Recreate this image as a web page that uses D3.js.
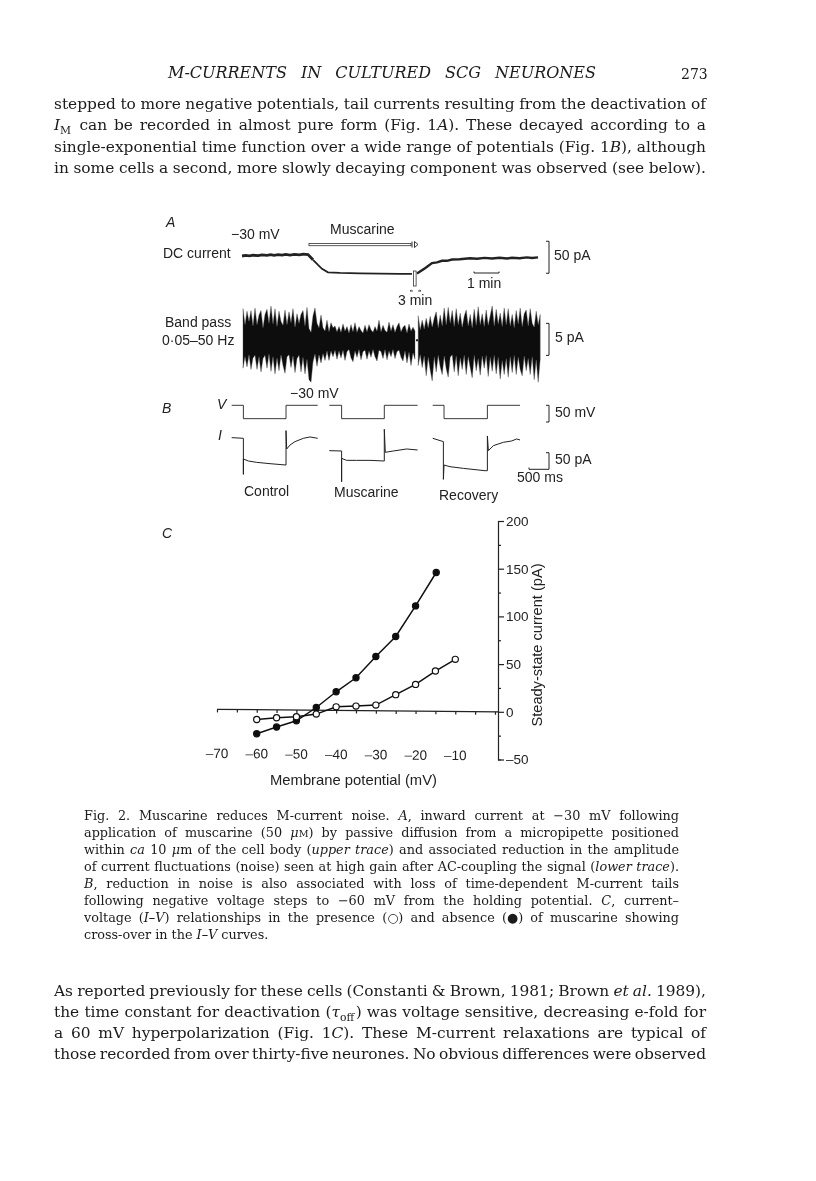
<!DOCTYPE html>
<html>
<head>
<meta charset="utf-8">
<script src="https://cdn.jsdelivr.net/npm/d3@7"></script>
<style>
    html, body { margin: 0; padding: 0; background: #fff; }
    svg { display: block; }
    .page { font-family: "DejaVu Serif", serif; fill: #1a1a1a; }
    .fig { font-family: "Liberation Sans", sans-serif; font-size: 14px; fill: #222; }
    .axis path, .axis line { stroke: #222; stroke-width: 1.2; }
    .axis text { font-family: "Liberation Sans", sans-serif; font-size: 13.5px; fill: #222; }
</style>
</head>
<body>
<svg id="sheet" width="816" height="1181">
    <defs><filter id="scan" x="0" y="0" width="100%" height="100%"><feGaussianBlur stdDeviation="0.3"/></filter></defs>
</svg>
<script>
// page text, * = italic, ~ = subscript, ^ = small
const bodyTop = [
    "stepped to more negative potentials, tail currents resulting from the deactivation of",
    "*I*~M~ can be recorded in almost pure form (Fig. 1*A*). These decayed according to a",
    "single-exponential time function over a wide range of potentials (Fig. 1*B*), although",
    "in some cells a second, more slowly decaying component was observed (see below)."
];
const caption = [
    "Fig. 2. Muscarine reduces M-current noise. *A*, inward current at −30 mV following",
    "application of muscarine (50 *μ*^M^) by passive diffusion from a micropipette positioned",
    "within *ca* 10 *μ*m of the cell body (*upper trace*) and associated reduction in the amplitude",
    "of current fluctuations (noise) seen at high gain after AC-coupling the signal (*lower trace*).",
    "*B*, reduction in noise is also associated with loss of time-dependent M-current tails",
    "following negative voltage steps to −60 mV from the holding potential. *C*, current–",
    "voltage (*I–V*) relationships in the presence (○) and absence (●) of muscarine showing",
    "cross-over in the *I–V* curves."
];
const bodyBottom = [
    "As reported previously for these cells (Constanti & Brown, 1981; Brown *et al.* 1989),",
    "the time constant for deactivation (*τ*~off~) was voltage sensitive, decreasing e-fold for",
    "a 60 mV hyperpolarization (Fig. 1*C*). These M-current relaxations are typical of",
    "those recorded from over thirty-five neurones. No obvious differences were observed"
];

// panel A, DC current (min, pA)
const dcTimeBase = [0, 0.15, 0.3, 0.45, 0.64, 0.8, 1, 1.15, 1.28, 1.45, 1.6, 1.75, 1.92, 2.1, 2.3, 2.45, 2.64, 2.84];
const dcValueBase = [0, 1, 0.2, 1.2, 0.6, 1.6, 0.9, 2, 1.1, 2.1, 1.3, 2.4, 1.4, 2.6, 1.8, 2.9, 2.2, -6];
const dcTimeDrug = [2.84, 3.04, 3.2, 3.44, 3.92, 4.72, 5.52, 6.32, 6.8];
const dcValueDrug = [-6, -14, -20, -25.5, -26.5, -27, -27.5, -28, -28];
const dcTimeAfter = [7, 7.32, 7.6, 7.8, 8, 8.2, 8.4, 8.7, 9.12, 9.4, 9.7, 10, 10.3, 10.6, 10.8, 11.1, 11.4, 11.6, 11.84];
const dcValueAfter = [-27.5, -19, -11, -10, -7.5, -7.5, -5.5, -5, -3.6, -4.4, -3, -3.8, -2.8, -3.8, -2.8, -3.4, -2.2, -3.2, -2.2];

// panel A, band pass envelope (pA), one value per sample
const noiseUpBefore = [4.9,2.4,4.5,2.9,4.6,2.2,5.0,2.4,3.9,4.6,1.9,4.0,4.8,2.6,5.3,2.5,4.9,2.1,4.5,2.9,2.3,4.7,2.4,4.4,2.7,4.9,2.0,4.1,2.6,4.0,4.6,2.2,5.1,1.8,1.2,3.8,5.0,2.6,1.9,3.9,1.9,1.4,3.1,1.3,2.7];
const noiseLoBefore = [-4.4,-2.6,-4.2,-2.3,-4.6,-2.8,-2.4,-4.6,-2.6,-5.0,-2.9,-2.4,-4.4,-2.2,-4.9,-2.6,-5.3,-2.8,-4.8,-2.3,-4.0,-5.2,-2.6,-2.3,-4.3,-2.5,-5.1,-2.9,-2.4,-5.0,-2.7,-5.3,-3.0,-6.2,-6.6,-3.4,-2.2,-4.1,-2.3,-3.6,-2.1,-3.2,-1.7,-3.2,-1.7];
const noiseUpDrug = [1.9,2.2,1.3,2.1,1.2,2.5,1.4,2.1,1.1,2.4,1.3,2.7,1.2,2.1,1.5,1.1,2.3,1.3,2.4,1.6,1.2,2.1,1.4,3.1,1.3,2.3,1.5,1.2,2.8,1.4,2.4,1.2,2.1,2.7,1.3,2.0,2.3,1.1,2.5,1.4,2.0,1.4];
const noiseLoDrug = [-2.6,-1.6,-3.0,-1.7,-2.8,-1.6,-3.2,-1.8,-1.5,-2.8,-3.4,-1.7,-2.7,-1.5,-3.1,-1.8,-1.6,-3.0,-1.7,-2.7,-1.5,-2.6,-3.3,-1.6,-1.8,-2.9,-1.5,-3.1,-1.7,-2.6,-1.5,-2.9,-1.8,-1.6,-2.7,-3.3,-1.7,-3.6,-1.9,-4.0,-2.0,-3.0];
const noiseUpAfter = [3.8,1.6,3.1,1.7,3.4,1.9,3.7,2.0,3.4,4.4,1.9,3.9,2.2,5.0,2.4,5.1,2.6,4.6,2.1,4.9,2.4,4.2,2.0,3.7,4.7,2.2,4.0,1.9,4.8,2.3,5.2,2.4,4.1,2.1,4.7,2.3,3.8,5.3,2.2,4.8,2.5,4.2,2.1,5.0,2.4,4.9,2.2,4.0,1.9,4.6,2.5,5.0,2.1,4.1,4.7,2.2,4.9,2.6,2.0,4.5,2.4,4.0];
const noiseLoAfter = [-4.0,-2.3,-4.3,-2.5,-5.6,-2.7,-4.7,-6.4,-2.6,-5.0,-2.4,-4.2,-5.4,-2.5,-4.5,-5.8,-2.7,-2.3,-5.0,-2.5,-5.6,-2.8,-4.6,-2.4,-5.4,-2.6,-4.3,-5.9,-2.4,-4.8,-2.9,-5.5,-2.5,-4.4,-2.4,-5.7,-2.7,-4.9,-2.4,-5.3,-2.7,-6.1,-3.2,-5.4,-2.9,-5.8,-2.6,-5.1,-2.4,-5.4,-2.7,-4.6,-5.6,-2.5,-4.8,-2.9,-5.4,-2.6,-6.2,-3.1,-6.6,-3.0];

// panel B, command voltage (ms, mV) and current (ms, pA)
const vTimeControl = [0, 292, 292, 1358, 1358, 2150];
const vTimeDrug = [0, 308, 308, 1375, 1375, 2208];
const vTimeRecovery = [0, 283, 283, 1367, 1367, 2183];
const vLevels = [-30, -30, -70, -70, -30, -30];
const iTimeControl = [0, 292, 292, 292, 417, 625, 958, 1358, 1358, 1375, 1458, 1583, 1792, 1958, 2150];
const iValueControl = [2, 0, -108, -62, -68, -72, -76, -80, 23, -32, -20, -10, 0, 4, 0];
const iTimeDrug = [0, 308, 308, 308, 433, 683, 1017, 1375, 1375, 1400, 1600, 1933, 2208];
const iValueDrug = [-37, -38, -130, -60, -66, -66, -66, -68, 27, -42, -38, -32, -35];
const iTimeRecovery = [0, 267, 267, 283, 433, 767, 1308, 1367, 1367, 1392, 1517, 1767, 1975, 2100, 2183];
const iValueRecovery = [0, -10, -123, -80, -85, -90, -97, -97, 7, -37, -22, -12, -8, -2, -5];

// panel C, I-V
const absentV = [-60, -55, -50, -45, -40, -35, -30, -25, -20, -14.8];
const absentI = [-23, -16, -9.4, 4.5, 21, 35.7, 58, 79, 111, 146];
const presentV = [-60, -55, -50, -45, -40, -35, -30, -25, -20, -15, -10];
const presentI = [-8, -6.3, -5.2, -2.4, 5.2, 6, 7, 18, 28.7, 42.7, 55];
const xTickValues = d3.range(-70, 1, 5);
const yTickValues = d3.range(-50, 201, 25);

const svg = d3.select("#sheet");
const root = svg.append("g").attr("filter", "url(#scan)");
root.append("rect").attr("width", 816).attr("height", 1181).attr("fill", "#fff");

const addLine = function(sel, str, x, y, size, right) {
    const t = sel.append("text").attr("x", x).attr("y", y).attr("font-size", size);
    str.split(/(\*[^*]+\*|~[^~]+~|\^[^^]+\^)/).filter(s => s).forEach(part => {
        const mark = part[0];
        if (mark === "*") {
            t.append("tspan").attr("font-style", "italic").text(part.slice(1, -1));
        } else if (mark === "~") {
            t.append("tspan").attr("font-size", size * 0.7).attr("dy", size * 0.25).text(part.slice(1, -1));
            t.append("tspan").attr("dy", -size * 0.25).text("\u200a");
        } else if (mark === "^") {
            t.append("tspan").attr("font-size", size * 0.75).text(part.slice(1, -1));
        } else {
            t.append("tspan").text(part);
        }
    });
    if (right) {
        const gaps = str.split(" ").length - 1;
        const extra = (right - x - t.node().getComputedTextLength()) / gaps;
        t.attr("word-spacing", extra);
    }
    return t;
}

const page = root.append("g").attr("class", "page");
addLine(page, "*M-CURRENTS IN CULTURED SCG NEURONES*", 168, 78, 16, 596);
addLine(page, "273", 681, 79, 14, null);
bodyTop.forEach((s, i) => addLine(page, s, 54, 109 + i * 21.4, 15.4, 706));
caption.forEach((s, i) => addLine(page, s, 84, 820 + i * 17, 12.8, i === 7 ? null : 679));
bodyBottom.forEach((s, i) => addLine(page, s, 54, 996 + i * 21, 15.4, 706));

const fig = root.append("g").attr("class", "fig");
const label = function(str, x, y, italic) {
    return fig.append("text").attr("x", x).attr("y", y)
        .attr("font-style", italic ? "italic" : null).text(str);
}
const stroke = function(d, width) {
    return fig.append("path").attr("d", d).attr("fill", "none")
        .attr("stroke", "#222").attr("stroke-width", width || 1);
}

// panel A
const dcX = d3.scaleLinear().domain([0, 11.84]).range([242, 538]);
const dcY = d3.scaleLinear().domain([0, -50]).range([256, 288]);
const dcLine = d3.line().x(d => dcX(d[0])).y(d => dcY(d[1]));
stroke(dcLine(d3.zip(dcTimeBase, dcValueBase)), 2.8);
stroke(dcLine(d3.zip(dcTimeDrug, dcValueDrug)), 1.8);
stroke(dcLine(d3.zip(dcTimeAfter, dcValueAfter)), 2.4);

label("A", 166, 227, true);
label("−30 mV", 231, 239);
label("Muscarine", 330, 234);
label("DC current", 163, 258);
label("50 pA", 554, 260);
label("1 min", 467, 288);
label("3 min", 398, 305);
label("Band pass", 165, 327);
label("0·05–50 Hz", 162, 345);
label("5 pA", 555, 342);

// muscarine bar and the break in the trace
fig.append("rect").attr("x", 309).attr("y", 243.5).attr("width", 102).attr("height", 2.2)
    .attr("fill", "#fff").attr("stroke", "#333").attr("stroke-width", 0.8);
stroke("M412 241.5V247.5M414.5 241.5V247.5M414.5 241.5L418 244.5L414.5 247.5", 0.9);
fig.append("rect").attr("x", 413.5).attr("y", 271).attr("width", 2.6).attr("height", 15)
    .attr("fill", "#fff").attr("stroke", "#333").attr("stroke-width", 0.8);
stroke("M410 291h3M410 291l1.5-1M418 291h3M421 291l-1.5-1", 0.8);
stroke("M474 271.5v1.5h25v-1.5", 1);

// scale brackets
const bracket = (x, y0, y1) => `M${x - 3} ${y0}H${x}V${y1}H${x - 3}`;
stroke(bracket(549, dcY(23), dcY(-27)), 1);

// band pass
const noiseX = d3.scaleLinear().domain([0, 149]).range([243, 541]);
const noiseY = d3.scaleLinear().domain([0, 1]).range([340, 333.6]);
const noiseArea = d3.area()
    .x(d => noiseX(d.i))
    .y0(d => noiseY(d.lo))
    .y1(d => noiseY(d.up));
const noiseSegs = [
    {start: 0, up: noiseUpBefore.concat(noiseUpDrug), lo: noiseLoBefore.concat(noiseLoDrug)},
    {start: 87.6, up: noiseUpAfter, lo: noiseLoAfter}
];
fig.selectAll("path.noise")
    .data(noiseSegs).enter()
    .append("path")
    .attr("class", "noise")
    .attr("fill", "#0a0a0a")
    .attr("stroke", "#555")
    .attr("stroke-width", 0.4)
    .attr("d", s => noiseArea(s.up.map((u, k) => ({i: s.start + k, up: u, lo: s.lo[k]}))));
stroke(`M417 ${noiseY(0.1)}V${noiseY(-0.2)}`, 2);
stroke(bracket(549, noiseY(2.6), noiseY(-2.4)), 1);

// panel B
const msScale = d3.scaleLinear().domain([0, 25]).range([0, 1]);
const vY = d3.scaleLinear().domain([-30, -80]).range([405.3, 422]);
const iY = d3.scaleLinear().domain([0, -50]).range([438.3, 455]);
const sweeps = [
    {x0: 231.7, vt: vTimeControl, it: iTimeControl, iv: iValueControl},
    {x0: 329.3, vt: vTimeDrug, it: iTimeDrug, iv: iValueDrug},
    {x0: 432.7, vt: vTimeRecovery, it: iTimeRecovery, iv: iValueRecovery}
];
sweeps.forEach(s => {
    const vPath = d3.line().x(d => s.x0 + msScale(d[0])).y(d => vY(d[1]));
    const iPath = d3.line().x(d => s.x0 + msScale(d[0])).y(d => iY(d[1]));
    stroke(vPath(d3.zip(s.vt, vLevels)), 0.9);
    stroke(iPath(d3.zip(s.it, s.iv)), 1);
});
label("B", 162, 413, true);
label("V", 217, 409, true);
label("I", 218, 440, true);
label("−30 mV", 290, 398);
label("50 mV", 555, 417);
label("50 pA", 555, 464);
label("500 ms", 517, 482);
label("Control", 244, 496);
label("Muscarine", 334, 497);
label("Recovery", 439, 500);
stroke(bracket(549, vY(-30), vY(-80)), 1);
stroke("M529 469.3V467.5M529 469.3H549V452.7H546", 1);

// panel C
const x = d3.scaleLinear().domain([-70, 0]).range([217, 495]);
const y = d3.scaleLinear().domain([-50, 200]).range([759.5, 521]);
const axisX = d3.axisBottom(x)
    .tickValues(xTickValues)
    .tickSize(3)
    .tickPadding(36)
    .tickFormat(d => (d % 10 === 0 && d !== 0) ? "–" + Math.abs(d) : "");
const axisY = d3.axisRight(y)
    .tickValues(yTickValues)
    .tickSize(3)
    .tickPadding(7)
    .tickFormat(d => d % 50 === 0 ? String(d).replace("-", "–") : "");
const gx = root.append("g")
    .attr("class", "axis")
    .attr("transform", `translate(0,${y(0)}) rotate(0.5,495,0)`)
    .call(axisX)
    .call(g => g.select(".domain").attr("d", "M217 0H498"));
const gy = root.append("g")
    .attr("class", "axis")
    .attr("transform", "translate(498,0)")
    .call(axisY)
    .call(g => g.selectAll(".tick").filter(d => d % 50 === 0).select("line").attr("x2", 6))
    .call(g => g.selectAll(".tick text").attr("x", 8));

const ivLine = d3.line().x(d => x(d[0])).y(d => y(d[1]));
const drawSeries = function(vs, is, fill) {
    const pts = d3.zip(vs, is);
    root.append("path").attr("d", ivLine(pts)).attr("fill", "none")
        .attr("stroke", "#111").attr("stroke-width", 1.5);
    root.append("g").selectAll("circle")
        .data(pts).enter()
        .append("circle")
        .attr("cx", d => x(d[0]))
        .attr("cy", d => y(d[1]))
        .attr("r", 3.1)
        .attr("fill", fill)
        .attr("stroke", "#111")
        .attr("stroke-width", 1.2);
}
drawSeries(absentV, absentI, "#111");
drawSeries(presentV, presentI, "#fff");

label("C", 162, 538, true);
label("Membrane potential (mV)", 270, 785).style("font-size", "14.8px");
fig.append("text")
    .attr("transform", "translate(542,645) rotate(-90)")
    .attr("text-anchor", "middle")
    .style("font-size", "14.6px")
    .text("Steady-state current (pA)");
</script>
</body>
</html>
